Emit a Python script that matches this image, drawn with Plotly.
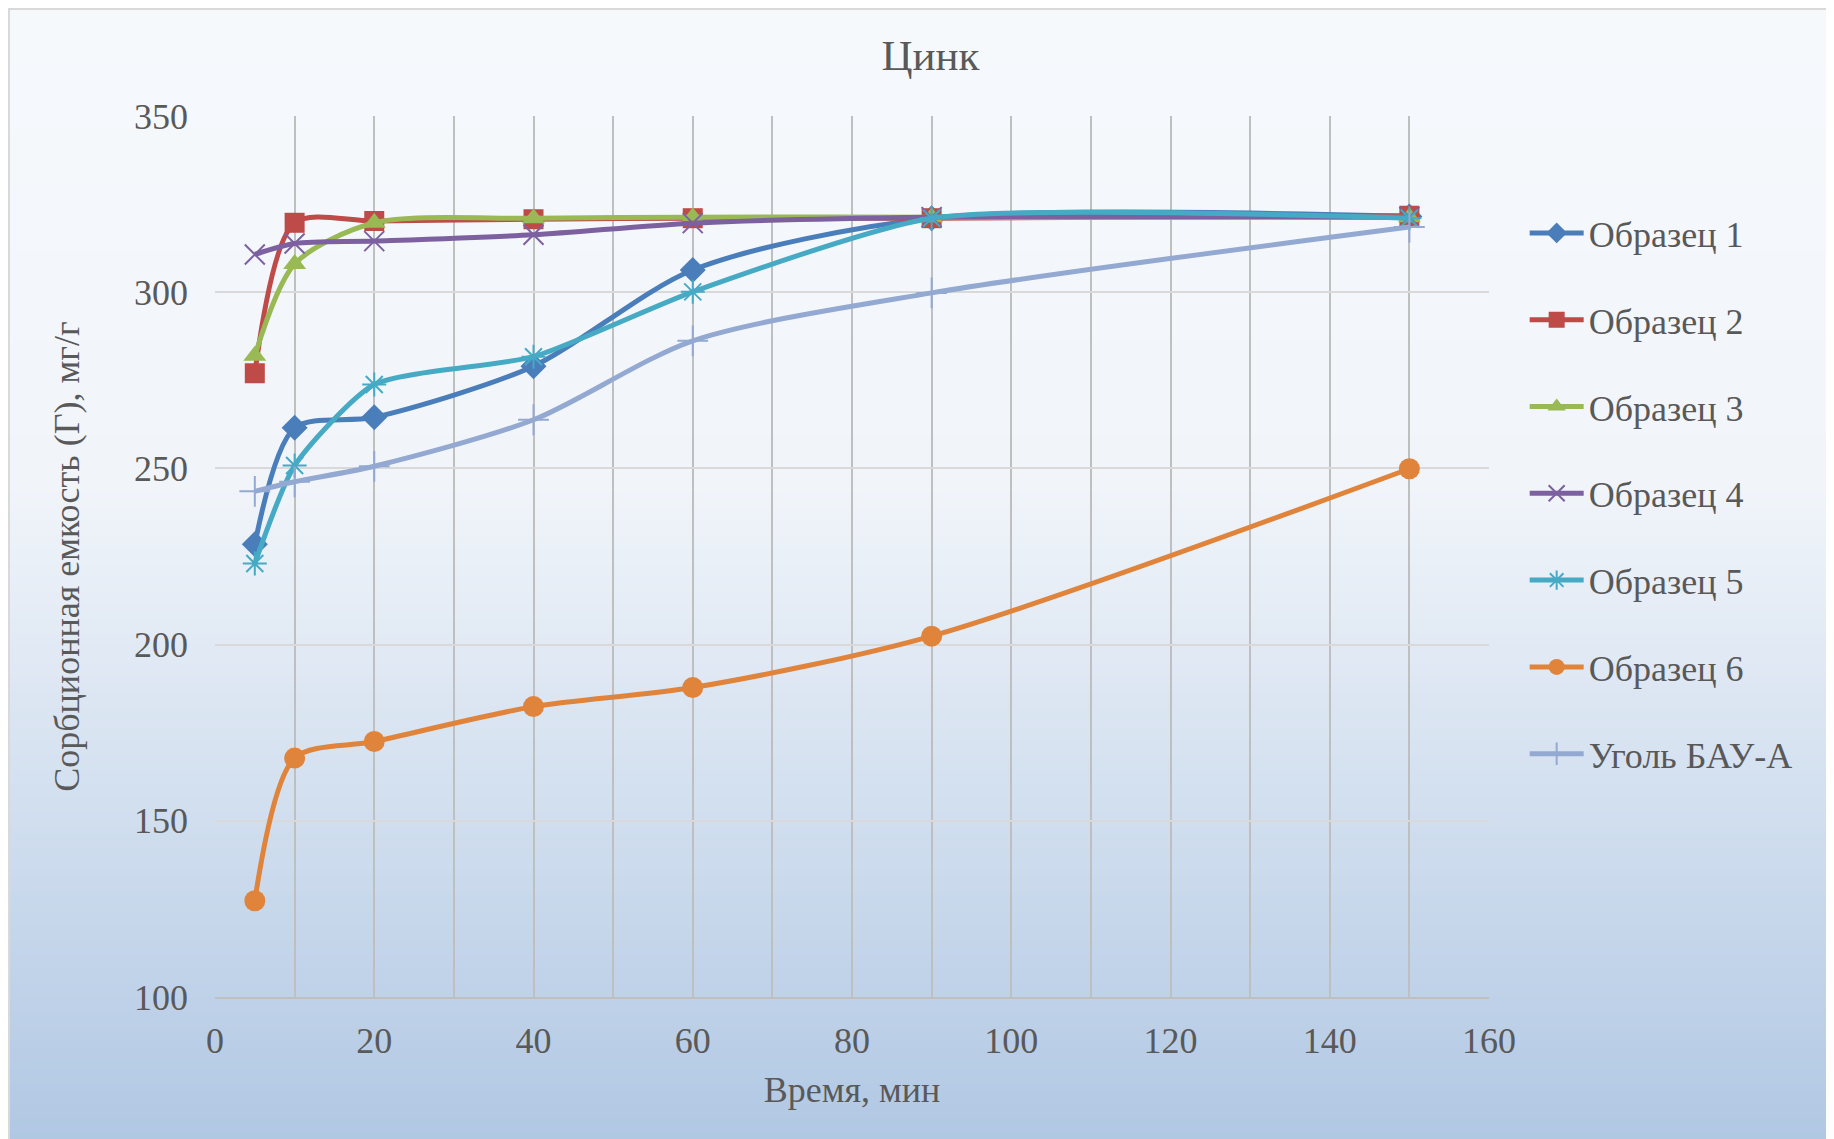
import plotly.graph_objects as go

# ---- data ----
time_min = [5, 10, 20, 40, 60, 90, 150]
series_names = ["Образец 1", "Образец 2", "Образец 3", "Образец 4", "Образец 5", "Образец 6", "Уголь БАУ-А"]
s1 = [228.5, 261.5, 264.5, 279.0, 306.3, 321.0, 321.5]
s2 = [277.0, 319.7, 320.2, 320.7, 321.0, 321.0, 321.7]
s3 = [282.0, 308.0, 319.7, 321.0, 321.3, 321.3, 321.3]
s4 = [310.7, 313.8, 314.5, 316.3, 319.6, 321.3, 321.3]
s5 = [223.0, 250.8, 273.8, 281.7, 300.1, 321.0, 321.0]
s6 = [127.3, 167.8, 172.5, 182.4, 187.8, 202.4, 249.9]
s7 = [243.5, 246.2, 250.6, 263.8, 286.2, 299.8, 318.5]
values = [s1, s2, s3, s4, s5, s6, s7]

title_text = "Цинк"
x_title = "Время, мин"
y_title = "Сорбционная емкость (Г), мг/г"
x_tickvals = [0, 20, 40, 60, 80, 100, 120, 140, 160]
y_tickvals = [100, 150, 200, 250, 300, 350]

colors = ["#4A7EBB", "#BE4B48", "#98B954", "#7D60A0", "#46AAC5", "#E0843C", "#93A9D1"]
symbols = ["diamond", "square", "triangle-up", "x-thin-open", "asterisk-open", "circle", "cross-thin-open"]
sizes = [20, 20, 20, 20, 20, 21, 22]
smooth = [0.8, 0.8, 0.8, 0.8, 0.6, 0.8, 0.8]

FONT = "Liberation Serif"
TXT = "#595959"

W, H = 1834, 1139
L, R, T, B = 207, 353, 108, 150

fig = go.Figure()
for i, name in enumerate(series_names):
    open_sym = symbols[i].endswith("-open")
    fig.add_trace(go.Scatter(
        x=time_min, y=values[i], name=name, mode="lines+markers",
        legendgroup=f"g{i}",
        line=dict(color=colors[i], width=5, shape="spline", smoothing=smooth[i]),
        marker=dict(symbol=symbols[i], size=sizes[i], color=colors[i],
                    line=dict(color=colors[i], width=2 if open_sym else 0)),
    ))

# ---- gradient background (paper bands) ----
pw = W - L - R
ph = H - T - B
def px2paper_x(X):
    return (X - L) / pw
def px2paper_y(Y):
    return (H - B - Y) / ph

top_c = (246, 249, 252)
mid_c = (241, 245, 250)
bot_c = (176, 199, 227)
def grad(t):
    if t < 0.42:
        a, b, u = top_c, mid_c, t / 0.42
    else:
        a, b, u = mid_c, bot_c, (t - 0.42) / 0.58
    return "rgb(%d,%d,%d)" % tuple(round(a[k] + (b[k] - a[k]) * u) for k in range(3))

shapes = []
N = 160
for k in range(N):
    y0 = H * k / N
    y1 = H * (k + 1) / N + 1
    shapes.append(dict(type="rect", xref="paper", yref="paper", layer="below",
                       x0=px2paper_x(0), x1=px2paper_x(W),
                       y0=px2paper_y(y1), y1=px2paper_y(y0),
                       fillcolor=grad((k + 0.5) / N), line=dict(width=0)))
shapes.append(dict(type="rect", xref="paper", yref="paper", layer="above",
                   x0=px2paper_x(1), x1=px2paper_x(W + 5),
                   y0=px2paper_y(H + 5), y1=px2paper_y(1),
                   fillcolor="rgba(0,0,0,0)", line=dict(color="#d9d9d9", width=2)))

fig.update_layout(
    width=W, height=H,
    margin=dict(l=L, r=R, t=T, b=B, autoexpand=False),
    paper_bgcolor="rgb(176,199,227)",
    plot_bgcolor="rgba(0,0,0,0)",
    shapes=shapes,
    font=dict(family=FONT, color=TXT, size=36),
    title=dict(text=title_text, x=0.503, xanchor="center", y=1 - 47 / H, yanchor="middle",
               font=dict(family=FONT, size=43, color=TXT)),
    showlegend=True,
    legend=dict(x=1.028, xanchor="left", y=px2paper_y(195), yanchor="top",
                bgcolor="rgba(0,0,0,0)", font=dict(family=FONT, size=36, color=TXT),
                tracegroupgap=37, itemwidth=54),
    xaxis=dict(range=[0, 160], tickvals=x_tickvals, ticks="", ticklabelstandoff=11,
               showgrid=True, gridcolor="#bfbfbf", gridwidth=1.5,
               minor=dict(dtick=10, tick0=0, showgrid=True, gridcolor="#bfbfbf", gridwidth=1.5),
               showline=True, linecolor="#bfbfbf", linewidth=2, mirror=False, zeroline=False,
               title=dict(text=x_title, standoff=17, font=dict(family=FONT, size=36, color=TXT)),
               tickfont=dict(family=FONT, size=36, color=TXT)),
    yaxis=dict(range=[100, 350], tickvals=y_tickvals, ticks="", ticklabelstandoff=26,
               showgrid=True, gridcolor="#d9d9d9", gridwidth=2, zeroline=False,
               showline=False,
               title=dict(text=y_title, standoff=43, font=dict(family=FONT, size=36, color=TXT)),
               tickfont=dict(family=FONT, size=36, color=TXT)),
)

fig.write_html("out.html")
